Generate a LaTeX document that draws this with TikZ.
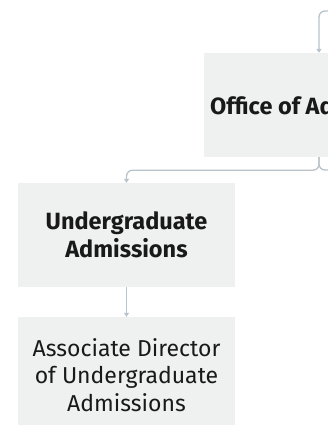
\documentclass[tikz,border=0pt]{standalone}
\usepackage{fontspec}
\setmainfont{Fira Sans}
\usetikzlibrary{arrows.meta}
\definecolor{boxgray}{HTML}{EFF0F0}
\definecolor{linegray}{HTML}{B9C3CA}
\tikzset{
  unit/.style={fill=boxgray, minimum width=217pt, minimum height=104pt,
    align=center, inner sep=0pt, text=black!90,
    font=\fontsize{23}{27.5}\selectfont},
  head/.style={unit, font=\fontsize{23.5}{27.5}\selectfont\bfseries},
  conn/.style={draw=linegray, line width=1.3pt, rounded corners=6pt},
  tip/.style={conn, -{Triangle[width=5pt,length=4pt]}},
}
\begin{document}
\begin{tikzpicture}[x=1pt,y=-1pt]
  \useasboundingbox (0,0) rectangle (328,425);
  \clip (0,0) rectangle (328,425);
  % boxes
  \node[head, minimum width=230pt] (office) at (319,105) {Office of Admissions};
  \node[head] (ugrad) at (126.5,235) {Undergraduate\\Admissions};
  \node[unit, minimum height=116pt] (assoc) at (126.5,375) {Associate Director\\of Undergraduate\\Admissions};
  % links
  \coordinate (top) at (345,11);
  \coordinate (side) at (345,170);
  \draw[tip] (top) -| (office.north);
  \draw[tip] (office.south) -- ++(0,13) -| (ugrad.north);
  \draw[conn] (office.south) |- (side);
  \draw[tip] (ugrad) -- (assoc);
\end{tikzpicture}
\end{document}
